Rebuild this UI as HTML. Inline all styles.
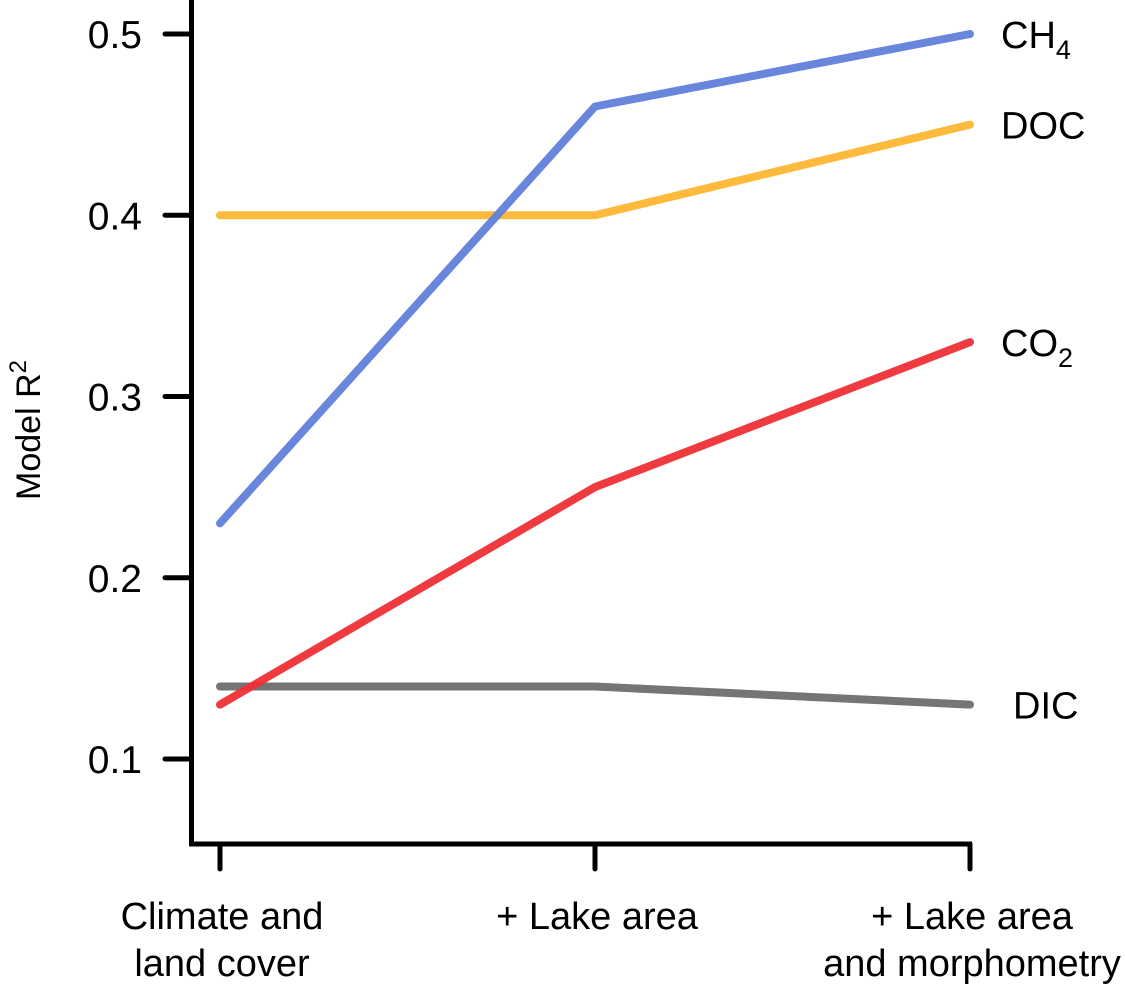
<!DOCTYPE html>
<html><head><meta charset="utf-8"><style>
html,body{margin:0;padding:0;background:#fff;}
svg{display:block;font-family:"Liberation Sans",Arial,sans-serif;}
</style></head><body>
<svg id="chart" width="1125" height="985" viewBox="0 0 1125 985">
<g id="axes"></g><g id="series"></g><g id="labels"></g>
</svg>
<script>
const categories = [["Climate and","land cover"],["+ Lake area"],["+ Lake area","and morphometry"]];
const seriesNames = ["DIC","CO2","DOC","CH4"];
const dicValues = [0.14,0.14,0.13];
const co2Values = [0.13,0.25,0.33];
const docValues = [0.40,0.40,0.45];
const ch4Values = [0.23,0.46,0.50];
const yTicks = [0.1,0.2,0.3,0.4,0.5];
const yTickLabels = ["0.1","0.2","0.3","0.4","0.5"];

const NS="http://www.w3.org/2000/svg";
const y = v => 759 + (v-0.1)*(34-759)/0.4;
const x = i => 220 + i*375;
function mk(tag, attrs, parent){const e=document.createElementNS(NS,tag);for(const k in attrs)e.setAttribute(k,attrs[k]);parent.appendChild(e);return e;}
const axes=document.getElementById('axes'), ser=document.getElementById('series'), lab=document.getElementById('labels');

let ya=mk('path',{d:'M191.5,0 V844 H972',fill:'none',stroke:'#000','stroke-width':5,'stroke-linejoin':'miter'},axes);


yTicks.forEach((t,i)=>{
  let l=mk('line',{x1:165,x2:191,y1:y(t),y2:y(t),stroke:'#000','stroke-width':5,'stroke-linecap':'round'},axes);
  
  
  let tx=mk('text',{x:142,y:y(t)+14,'font-size':39,'text-anchor':'end'},axes);
  tx.textContent=yTickLabels[i];
  
  
});
categories.forEach((c,i)=>{
  let l=mk('line',{x1:x(i),x2:x(i),y1:844,y2:869,stroke:'#000','stroke-width':5,'stroke-linecap':'round'},axes);
  
  
  let tx=mk('text',{x:x(i)+2,y:929,'font-size':38,'text-anchor':'middle'},axes);
  
  
  c.forEach((s,j)=>{let ts=mk('tspan',{x:x(i)+2,dy:j?47:0},tx);ts.textContent=s;});
});
let yt=mk('text',{transform:'translate(40,430) rotate(-90)','font-size':34,'text-anchor':'middle'},axes);
yt.innerHTML='Model R<tspan dy="-14" font-size="24">2</tspan>';



const colors={DIC:'#6e6e6e',CO2:'#ee3035',DOC:'#fdb631',CH4:'#617fdb'};
const vals={DIC:dicValues,CO2:co2Values,DOC:docValues,CH4:ch4Values};
const labelHtml={DIC:'DIC',CO2:'CO<tspan dy="11" font-size="27">2</tspan>',DOC:'DOC',CH4:'CH<tspan dy="11" font-size="27">4</tspan>'};
const labelDx={DIC:12,CO2:0,DOC:0,CH4:0};
seriesNames.forEach(n=>{
  const v=vals[n];
  let p=mk('polyline',{points:v.map((d,i)=>x(i)+','+y(d)).join(' '),fill:'none',stroke:colors[n],'stroke-width':8,'stroke-linecap':'round','stroke-linejoin':'round','stroke-opacity':0.95},ser);
  
  
  let t=mk('text',{x:1001+labelDx[n],y:y(v[2])+14,'font-size':38},lab);
  t.innerHTML=labelHtml[n];
  
  
});
</script>
</body></html>
